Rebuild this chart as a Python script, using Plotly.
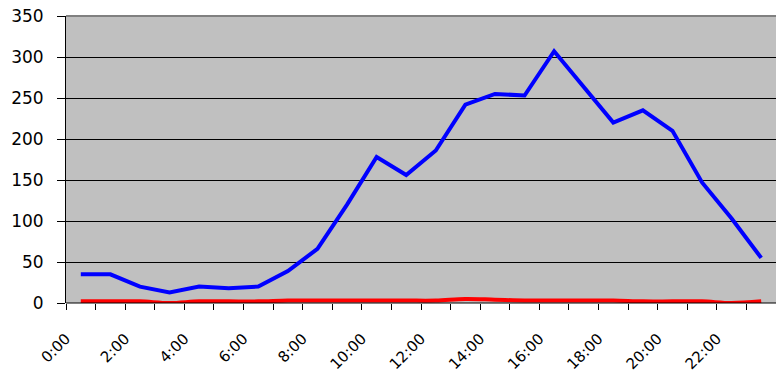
import plotly.graph_objects as go

hours = ["0:00", "1:00", "2:00", "3:00", "4:00", "5:00", "6:00", "7:00",
         "8:00", "9:00", "10:00", "11:00", "12:00", "13:00", "14:00", "15:00",
         "16:00", "17:00", "18:00", "19:00", "20:00", "21:00", "22:00", "23:00"]
blue_values = [35, 35, 20, 13, 20, 18, 20, 39, 66, 120, 178, 156, 186, 242,
               255, 253, 307, 263, 220, 235, 210, 147, 103, 55]
red_values = [2, 2, 2, 0, 2, 2, 2, 3, 3, 3, 3, 3, 3, 5,
              4, 3, 3, 3, 3, 2, 2, 2, 0, 2]
tick_labels = ["0:00", "2:00", "4:00", "6:00", "8:00", "10:00",
               "12:00", "14:00", "16:00", "18:00", "20:00", "22:00"]
y_ticks = [0, 50, 100, 150, 200, 250, 300, 350]

xpos = [i + 0.5 for i in range(len(hours))]
tickvals = list(range(len(hours) + 1))
ticktext = [(h if h in tick_labels else "") for h in hours] + [""]

fig = go.Figure()
fig.add_trace(go.Scatter(x=xpos, y=red_values, mode="lines",
                         line=dict(color="#FF0000", width=4, shape="spline"),
                         hovertext=hours, cliponaxis=False))
fig.add_trace(go.Scatter(x=xpos, y=blue_values, mode="lines",
                         line=dict(color="#0000FF", width=4),
                         hovertext=hours, cliponaxis=False))

fig.update_layout(
    width=776, height=375,
    margin=dict(l=66, r=0, t=16, b=72, autoexpand=False),
    paper_bgcolor="white",
    plot_bgcolor="#C0C0C0",
    showlegend=False,
    font=dict(family="DejaVu Sans", color="#000000", size=15),
    xaxis=dict(range=[0, 24], tickvals=tickvals, ticktext=ticktext,
               tickangle=-45, ticks="outside", ticklen=6, tickcolor="#000000",
               showgrid=False, zeroline=False, showline=False, automargin=False,
               ticklabelstandoff=14, tickfont=dict(size=15)),
    yaxis=dict(range=[0, 350], tickvals=y_ticks, ticks="outside", ticklen=8,
               tickcolor="#000000", showgrid=True, gridcolor="#000000",
               gridwidth=1, zeroline=False, showline=True, linecolor="#000000",
               linewidth=1, automargin=False, ticklabelstandoff=10,
               tickfont=dict(size=17)),
)
fig.add_shape(type="line", xref="paper", yref="paper", x0=0, x1=1, y0=1, y1=1,
              line=dict(color="#808080", width=2))
fig.add_shape(type="line", xref="paper", yref="paper", x0=0, x1=1, y0=0, y1=0,
              line=dict(color="#000000", width=1))

fig.write_html("out.html", config={"displayModeBar": False},
               post_script="document.body.style.margin='0';document.body.style.overflow='hidden';")
